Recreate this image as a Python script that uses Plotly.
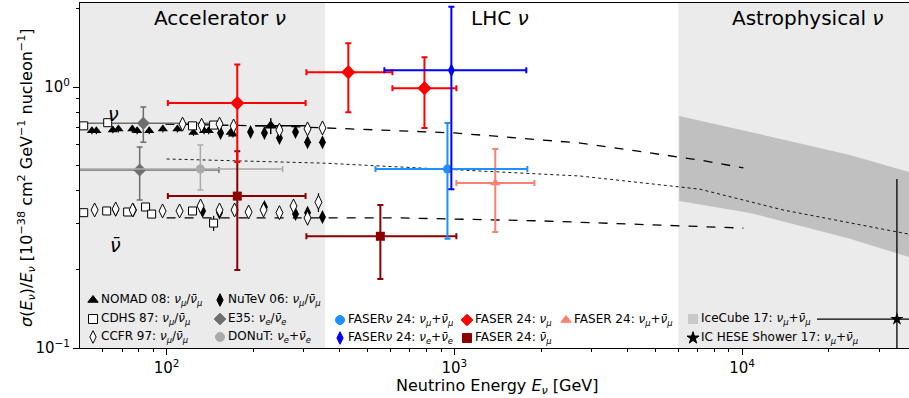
import plotly.graph_objects as go
import numpy as np

FONT = "DejaVu Sans"

# ---------------- Accelerator data (neutrino) ----------------
nomad_E = [55, 57, 65, 68, 76, 79, 87, 97, 109, 124, 135, 140, 167, 170]
nomad_s = [0.68, 0.68, 0.685, 0.69, 0.69, 0.68, 0.68, 0.69, 0.69, 0.67, 0.68, 0.68, 0.67, 0.66]
nomad_err = [0.02] * 14
nomad_hi_E = [230]
nomad_hi_s = [0.71]
nomad_hi_Elo = [203]
nomad_hi_Ehi = [304]
nomad_hi_err = [0.05]

cdhs_nu_E = [51.5, 62.4, 123, 145.6]
cdhs_nu_s = [0.71, 0.73, 0.71, 0.715]
cdhs_nubar_E = [51.5, 61.9, 73.2, 84.5, 88.7, 123, 145.6]
cdhs_nubar_s = [0.330, 0.335, 0.332, 0.347, 0.326, 0.335, 0.301]
cdhs_nubar_err = [0.01, 0.01, 0.01, 0.01, 0.01, 0.01, 0.02]

ccfr_nu_E = [113.6, 132.3, 152.7, 170.9, 246.6, 308.8, 348]
ccfr_nu_s = [0.721, 0.714, 0.721, 0.709, 0.684, 0.691, 0.697]
ccfr_nubar_E = [56.2, 66.5, 76.2, 96.8, 110.9, 131.2, 152.7, 172.2, 192.7, 217.2, 246.6, 276, 308.8, 337]
ccfr_nubar_s = [0.338, 0.341, 0.338, 0.335, 0.335, 0.350, 0.338, 0.338, 0.332, 0.338, 0.330, 0.350, 0.315, 0.362]
ccfr_nubar_err = [0.01] * 12 + [0.02, 0.03]

nutev_nu_E = [154, 195.7, 218.7, 246.6, 280.5, 308.8, 348]
nutev_nu_s = [0.667, 0.673, 0.667, 0.638, 0.673, 0.615, 0.615]
nutev_nubar_E = [66.5, 76.7, 133.3, 152.7, 218.7, 280.5, 308.8, 348]
nutev_nubar_s = [0.338, 0.338, 0.335, 0.330, 0.347, 0.326, 0.330, 0.318]
nutev_err = 0.015

e35_E = [83, 80.6]
e35_Elo = [30, 30]
e35_Ehi = [150, 152]
e35_s = [0.727, 0.481]
e35_slo = [0.615, 0.369]
e35_shi = [0.838, 0.589]

donut_E = [131]
donut_Elo = [45]
donut_Ehi = [253]
donut_s = [0.485]
donut_slo = [0.403]
donut_shi = [0.600]

# ---------------- LHC / FASER data ----------------
faser_numu_E = [176, 428, 787]
faser_numu_Elo = [101, 306, 609]
faser_numu_Ehi = [304, 609, 1016]
faser_numu_s = [0.868, 1.14, 0.99]
faser_numu_slo = [0.516, 0.80, 0.697]
faser_numu_shi = [1.22, 1.47, 1.30]

faser_numubar_E = [176, 553]
faser_numubar_Elo = [101, 306]
faser_numubar_Ehi = [304, 1016]
faser_numubar_s = [0.382, 0.268]
faser_numubar_slo = [0.199, 0.184]
faser_numubar_shi = [0.567, 0.353]

faser_sum_E = [1387]
faser_sum_Elo = [1016]
faser_sum_Ehi = [1897]
faser_sum_s = [0.429]
faser_sum_slo = [0.278]
faser_sum_shi = [0.579]

fasernu_mu_E = [946]
fasernu_mu_Elo = [532]
fasernu_mu_Ehi = [1793]
fasernu_mu_s = [0.485]
fasernu_mu_slo = [0.262]
fasernu_mu_shi = [0.728]

fasernu_e_E = [976]
fasernu_e_Elo = [571]
fasernu_e_Ehi = [1778]
fasernu_e_s = [1.16]
fasernu_e_slo = [0.406]
fasernu_e_shi = [2.03]

# ---------------- Astrophysical ----------------
icecube_E = [6040, 10660, 23700, 38000]
icecube_hi = [0.774, 0.673, 0.549, 0.472]
icecube_lo = [0.366, 0.329, 0.262, 0.223]

hese_E = [34500]
hese_Elo = [18200]
hese_Ehi = [60000]
hese_s = [0.129]
hese_slo = [0.05]
hese_shi = [0.444]

# ---------------- Theory curves ----------------
th_nu_E = [99, 249, 1000, 2740, 7130, 10100]
th_nu_s = [0.721, 0.708, 0.667, 0.610, 0.525, 0.490]
th_nubar_E = [100, 650, 2000, 7130, 10100]
th_nubar_s = [0.315, 0.315, 0.307, 0.293, 0.288]
th_avg_E = [100, 350, 2740, 7130, 13870, 38000]
th_avg_s = [0.530, 0.511, 0.456, 0.406, 0.338, 0.273]

# region boundaries
acc_max = 355
astro_min = 6000
x_min, x_max = 50, 38000

fig = go.Figure()


def sub(a, b):
    return [x - y for x, y in zip(a, b)]


def errpt(E, s, Elo=None, Ehi=None, slo=None, shi=None, symbol="circle", color="black",
          size=8, lcolor=None, lwidth=0, ecolor=None, ethick=1.5, ewidth=3, name=""):
    ecolor = ecolor or color
    kw = {}
    if Elo is not None:
        kw["error_x"] = dict(type="data", symmetric=False, array=sub(Ehi, E), arrayminus=sub(E, Elo),
                             color=ecolor, thickness=ethick, width=ewidth)
    if slo is not None:
        kw["error_y"] = dict(type="data", symmetric=False, array=sub(shi, s), arrayminus=sub(s, slo),
                             color=ecolor, thickness=ethick, width=ewidth)
    fig.add_trace(go.Scatter(x=E, y=s, mode="markers", name=name, showlegend=False, cliponaxis=True,
                             marker=dict(symbol=symbol, color=color, size=size,
                                         line=dict(color=lcolor or color, width=lwidth)), **kw))


# IceCube band
fig.add_trace(go.Scatter(x=icecube_E + icecube_E[::-1], y=icecube_hi + icecube_lo[::-1],
                         fill="toself", fillcolor="#c0c0c0", line=dict(width=0), mode="lines",
                         showlegend=False, hoverinfo="skip"))

# theory
fig.add_trace(go.Scatter(x=th_nu_E, y=th_nu_s, mode="lines", line=dict(color="black", dash="dash", width=1.3),
                         showlegend=False))
fig.add_trace(go.Scatter(x=th_nubar_E, y=th_nubar_s, mode="lines", line=dict(color="black", dash="dash", width=1.3),
                         showlegend=False))
fig.add_trace(go.Scatter(x=th_avg_E, y=th_avg_s, mode="lines", line=dict(color="black", dash="dot", width=0.9),
                         showlegend=False))

# E35, DONuT
errpt(e35_E, e35_s, e35_Elo, e35_Ehi, e35_slo, e35_shi, symbol="diamond", color="#6e6e6e", size=10, ethick=1.5)
errpt(donut_E, donut_s, donut_Elo, donut_Ehi, donut_slo, donut_shi, symbol="circle", color="#aaaaaa", size=9, ethick=1.5)

# accelerator points
errpt(nomad_E, nomad_s, slo=sub(nomad_s, nomad_err), shi=[a + b for a, b in zip(nomad_s, nomad_err)],
      symbol="triangle-up", color="black", size=9, ethick=1.2, ewidth=0)
errpt(nomad_hi_E, nomad_hi_s, nomad_hi_Elo, nomad_hi_Ehi, sub(nomad_hi_s, nomad_hi_err),
      [a + b for a, b in zip(nomad_hi_s, nomad_hi_err)], symbol="triangle-up", color="black", size=11,
      ethick=1.5, ewidth=0)
errpt(nutev_nu_E, nutev_nu_s, slo=[v - nutev_err for v in nutev_nu_s], shi=[v + nutev_err for v in nutev_nu_s],
      symbol="diamond-tall", color="black", size=10, ethick=1.2, ewidth=0)
errpt(nutev_nubar_E, nutev_nubar_s, slo=[v - nutev_err for v in nutev_nubar_s],
      shi=[v + nutev_err for v in nutev_nubar_s],
      symbol="diamond-tall", color="black", size=10, ethick=1.2, ewidth=0)
errpt(cdhs_nu_E, cdhs_nu_s, symbol="square", color="white", lcolor="black", lwidth=1, size=8)
errpt(cdhs_nubar_E, cdhs_nubar_s, slo=sub(cdhs_nubar_s, cdhs_nubar_err),
      shi=[a + b for a, b in zip(cdhs_nubar_s, cdhs_nubar_err)],
      symbol="square", color="white", lcolor="black", lwidth=1, size=8, ecolor="black", ethick=1.2, ewidth=0)
errpt(ccfr_nu_E, ccfr_nu_s, symbol="diamond-tall", color="white", lcolor="black", lwidth=1, size=10)
errpt(ccfr_nubar_E, ccfr_nubar_s, slo=sub(ccfr_nubar_s, ccfr_nubar_err),
      shi=[a + b for a, b in zip(ccfr_nubar_s, ccfr_nubar_err)],
      symbol="diamond-tall", color="white", lcolor="black", lwidth=1, size=10, ecolor="black", ethick=1.2, ewidth=0)

# FASER
errpt(faser_numubar_E, faser_numubar_s, faser_numubar_Elo, faser_numubar_Ehi, faser_numubar_slo, faser_numubar_shi,
      symbol="square", color="#8b0000", size=9, ethick=2, ewidth=3)
errpt(faser_numu_E, faser_numu_s, faser_numu_Elo, faser_numu_Ehi, faser_numu_slo, faser_numu_shi,
      symbol="diamond", color="#ff0000", size=11, ethick=2, ewidth=3)
errpt(faser_sum_E, faser_sum_s, faser_sum_Elo, faser_sum_Ehi, faser_sum_slo, faser_sum_shi,
      symbol="triangle-up", color="#fa8072", size=9, ethick=2, ewidth=3)
errpt(fasernu_mu_E, fasernu_mu_s, fasernu_mu_Elo, fasernu_mu_Ehi, fasernu_mu_slo, fasernu_mu_shi,
      symbol="circle", color="#1e90ff", size=9, ethick=2, ewidth=3)
errpt(fasernu_e_E, fasernu_e_s, fasernu_e_Elo, fasernu_e_Ehi, fasernu_e_slo, fasernu_e_shi,
      symbol="diamond-tall", color="#0000ff", size=10, ethick=2, ewidth=3)

# HESE
errpt(hese_E, hese_s, hese_Elo, hese_Ehi, hese_slo, hese_shi, symbol="star", color="black", size=10,
      ethick=1.3, ewidth=0)

# ---------------- layout ----------------
L, R, T, B = 80, 0, 3, 50
W, H = 909, 398
pw, ph = W - L - R, H - T - B


def px2paper(px, py):
    return (px - L) / pw, (H - B - py) / ph


shapes = [
    dict(type="rect", xref="x", yref="paper", x0=x_min, x1=acc_max, y0=0, y1=1,
         fillcolor="#ebebeb", line=dict(width=0), layer="below"),
    dict(type="rect", xref="x", yref="paper", x0=astro_min, x1=x_max, y0=0, y1=1,
         fillcolor="#ebebeb", line=dict(width=0), layer="below"),
]

ann = []


def text(px, py, s, size=12, xanchor="left", color="black", angle=0):
    xp, yp = px2paper(px, py)
    ann.append(dict(x=xp, y=yp, xref="paper", yref="paper", text=s, showarrow=False, textangle=angle,
                    xanchor=xanchor, yanchor="middle", font=dict(family=FONT, size=size, color=color)))


text(220, 18, "Accelerator <i>ν</i>", 20, "center")
text(500, 18, "LHC <i>ν</i>", 20, "center")
text(807, 18, "Astrophysical <i>ν</i>", 20, "center")
text(113, 114, "<i>ν</i>", 19, "center")
text(115, 245, "<i>ν̄</i>", 19, "center")

# axis titles
text(497, 386, "Neutrino Energy <i>E</i><sub><i>ν</i></sub> [GeV]", 16, "center")
text(26, 178, "<i>σ</i>(<i>E</i><sub><i>ν</i></sub>)/<i>E</i><sub><i>ν</i></sub> "
              "[10<sup>−38</sup> cm<sup>2</sup> GeV<sup>−1</sup> nucleon<sup>−1</sup>]", 16, "center", angle=-90)

nm = "<i>ν</i><sub><i>μ</i></sub>"
nmb = "<i>ν̄</i><sub><i>μ</i></sub>"
ne = "<i>ν</i><sub><i>e</i></sub>"
neb = "<i>ν̄</i><sub><i>e</i></sub>"

legend_items = [
    (93, 300, "triangle-up", "black", "black", "NOMAD 08: " + nm + "/" + nmb),
    (93, 319, "square", "white", "black", "CDHS 87: " + nm + "/" + nmb),
    (93, 337, "diamond-tall", "white", "black", "CCFR 97: " + nm + "/" + nmb),
    (220, 300, "diamond-tall", "black", "black", "NuTeV 06: " + nm + "/" + nmb),
    (220, 319, "diamond", "#6e6e6e", "#6e6e6e", "E35: " + ne + "/" + neb),
    (220, 337, "circle", "#aaaaaa", "#aaaaaa", "DONuT: " + ne + "+" + neb),
    (340, 320, "circle", "#1e90ff", "#1e90ff", "FASER<i>ν</i> 24: " + nm + "+" + nmb),
    (340, 338, "diamond-tall", "#0000ff", "#0000ff", "FASER<i>ν</i> 24: " + ne + "+" + neb),
    (467, 320, "diamond", "#ff0000", "#ff0000", "FASER 24: " + nm),
    (467, 338, "square", "#8b0000", "#8b0000", "FASER 24: " + nmb),
    (566, 320, "triangle-up", "#fa8072", "#fa8072", "FASER 24: " + nm + "+" + nmb),
    (693, 319, "square", "#c8c8c8", "#c8c8c8", "IceCube 17: " + nm + "+" + nmb),
    (693, 338, "star", "black", "black", "IC HESE Shower 17: " + nm + "+" + nmb),
]
lx, ly, ls, lc, llc = [], [], [], [], []
for px, py, sym, c, lcol, t in legend_items:
    xp, yp = px2paper(px, py)
    lx.append(xp)
    ly.append(yp)
    ls.append(sym)
    lc.append(c)
    llc.append(lcol)
    text(px + 6, py, t, 12)

fig.add_trace(go.Scatter(x=lx, y=ly, xaxis="x2", yaxis="y2", mode="markers", showlegend=False,
                         hoverinfo="skip",
                         marker=dict(symbol=ls, color=lc, size=9, line=dict(color=llc, width=1))))

minor_x = [60, 70, 80, 90, 200, 300, 400, 500, 600, 700, 800, 900,
           2000, 3000, 4000, 5000, 6000, 7000, 8000, 9000, 20000, 30000]
minor_y = [0.2, 0.3, 0.4, 0.5, 0.6, 0.7, 0.8, 0.9, 2]

fig.update_layout(
    width=W, height=H,
    margin=dict(l=L, r=R, t=T, b=B, autoexpand=False),
    paper_bgcolor="white", plot_bgcolor="white",
    font=dict(family=FONT, color="black"),
    shapes=shapes, annotations=ann, showlegend=False,
    xaxis=dict(type="log", range=[np.log10(x_min), np.log10(x_max)], showline=True, mirror=True,
               linecolor="black", linewidth=1, ticks="outside", ticklen=6, tickcolor="black",
               tickvals=[100, 1000, 10000], ticktext=["10<sup>2</sup>", "10<sup>3</sup>", "10<sup>4</sup>"],
               tickfont=dict(size=15), showgrid=False, zeroline=False, automargin=False,
               minor=dict(tickmode="array", tickvals=minor_x, ticks="outside", ticklen=3, tickcolor="black",
                          showgrid=False)),
    yaxis=dict(type="log", range=[-1, 0.322], showline=True, mirror=True,
               linecolor="black", linewidth=1, ticks="outside", ticklen=6, tickcolor="black",
               tickvals=[0.1, 1], ticktext=["10<sup>−1</sup>", "10<sup>0</sup>"],
               tickfont=dict(size=15), showgrid=False, zeroline=False, automargin=False,
               minor=dict(tickmode="array", tickvals=minor_y, ticks="outside", ticklen=3, tickcolor="black",
                          showgrid=False)),
    xaxis2=dict(overlaying="x", range=[0, 1], visible=False, fixedrange=True),
    yaxis2=dict(overlaying="y", range=[0, 1], visible=False, fixedrange=True),
)

fig.write_html("out.html", config={"displayModeBar": False},
               post_script="document.body.style.margin='0px';document.body.style.overflow='hidden';")
